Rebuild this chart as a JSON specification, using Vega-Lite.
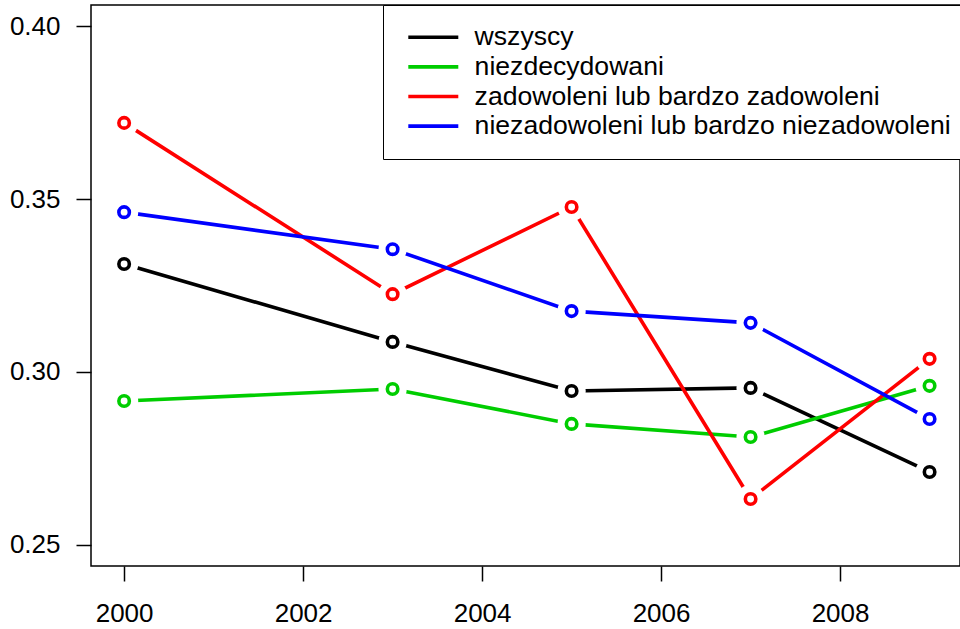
{
  "$schema": "https://vega.github.io/schema/vega-lite/v6.json",
  "autosize": "none",
  "width": 869,
  "height": 561,
  "padding": {"left": 91, "top": 5, "right": 0, "bottom": 63},
  "background": "white",
  "config": {
    "font": "Liberation Sans",
    "view": {"stroke": "black", "strokeWidth": 1.5},
    "axis": {"grid": false, "domain": false, "tickColor": "black", "tickWidth": 1.5, "tickSize": 15, "labelFontSize": 26, "labelColor": "black", "labelFont": "Liberation Sans", "labelPadding": 19, "title": null}
  },
  "data": {
    "values": [
      {"year": 2000, "group": "wszyscy", "value": 0.3312},
      {"year": 2003, "group": "wszyscy", "value": 0.3087},
      {"year": 2005, "group": "wszyscy", "value": 0.2945},
      {"year": 2007, "group": "wszyscy", "value": 0.2954},
      {"year": 2009, "group": "wszyscy", "value": 0.2711},
      {"year": 2000, "group": "niezdecydowani", "value": 0.2916},
      {"year": 2003, "group": "niezdecydowani", "value": 0.2951},
      {"year": 2005, "group": "niezdecydowani", "value": 0.2850},
      {"year": 2007, "group": "niezdecydowani", "value": 0.2812},
      {"year": 2009, "group": "niezdecydowani", "value": 0.2960},
      {"year": 2000, "group": "zadowoleni lub bardzo zadowoleni", "value": 0.3720},
      {"year": 2003, "group": "zadowoleni lub bardzo zadowoleni", "value": 0.3225},
      {"year": 2005, "group": "zadowoleni lub bardzo zadowoleni", "value": 0.3477},
      {"year": 2007, "group": "zadowoleni lub bardzo zadowoleni", "value": 0.2633},
      {"year": 2009, "group": "zadowoleni lub bardzo zadowoleni", "value": 0.3038},
      {"year": 2000, "group": "niezadowoleni lub bardzo niezadowoleni", "value": 0.3462},
      {"year": 2003, "group": "niezadowoleni lub bardzo niezadowoleni", "value": 0.3355},
      {"year": 2005, "group": "niezadowoleni lub bardzo niezadowoleni", "value": 0.3176},
      {"year": 2007, "group": "niezadowoleni lub bardzo niezadowoleni", "value": 0.3142},
      {"year": 2009, "group": "niezadowoleni lub bardzo niezadowoleni", "value": 0.2864}
    ]
  },
  "encoding": {
    "x": {"field": "year", "type": "quantitative", "scale": {"domain": [1999.63, 2009.34], "nice": false, "zero": false},
      "axis": {"values": [2000, 2002, 2004, 2006, 2008], "format": "d"}},
    "y": {"field": "value", "type": "quantitative", "scale": {"domain": [0.24393, 0.40607], "nice": false, "zero": false},
      "axis": {"values": [0.25, 0.30, 0.35, 0.40], "format": ".2f", "labelPadding": 16}}
  },
  "layer": [
    {
      "mark": {"type": "line", "strokeWidth": 3.6},
      "encoding": {
        "color": {"field": "group", "type": "nominal",
          "scale": {"domain": ["wszyscy", "niezdecydowani", "zadowoleni lub bardzo zadowoleni", "niezadowoleni lub bardzo niezadowoleni"],
                    "range": ["#000000", "#00CD00", "#FF0000", "#0000FF"]},
          "legend": {"orient": "none", "legendX": 292, "legendY": 0, "title": null, "symbolType": "M-0.7,0L4.3,0", "symbolSize": 400, "symbolStrokeWidth": 3.6,
            "symbolFillColor": "transparent",
            "labelFontSize": 26.6, "labelColor": "black", "labelFont": "Liberation Sans", "labelOffset": 46, "rowPadding": 2.6, "padding": 19,
            "fillColor": "white", "strokeColor": "black", "labelLimit": 1000}}
      }
    },
    {
      "mark": {"type": "point", "shape": "circle", "filled": true, "color": "white", "size": 800, "opacity": 1}
    },
    {
      "mark": {"type": "point", "shape": "circle", "filled": false, "fill": "white", "size": 110, "strokeWidth": 3.6, "opacity": 1},
      "encoding": {
        "stroke": {"field": "group", "type": "nominal", "legend": null,
          "scale": {"domain": ["wszyscy", "niezdecydowani", "zadowoleni lub bardzo zadowoleni", "niezadowoleni lub bardzo niezadowoleni"],
                    "range": ["#000000", "#00CD00", "#FF0000", "#0000FF"]}}
      }
    }
  ]
}
